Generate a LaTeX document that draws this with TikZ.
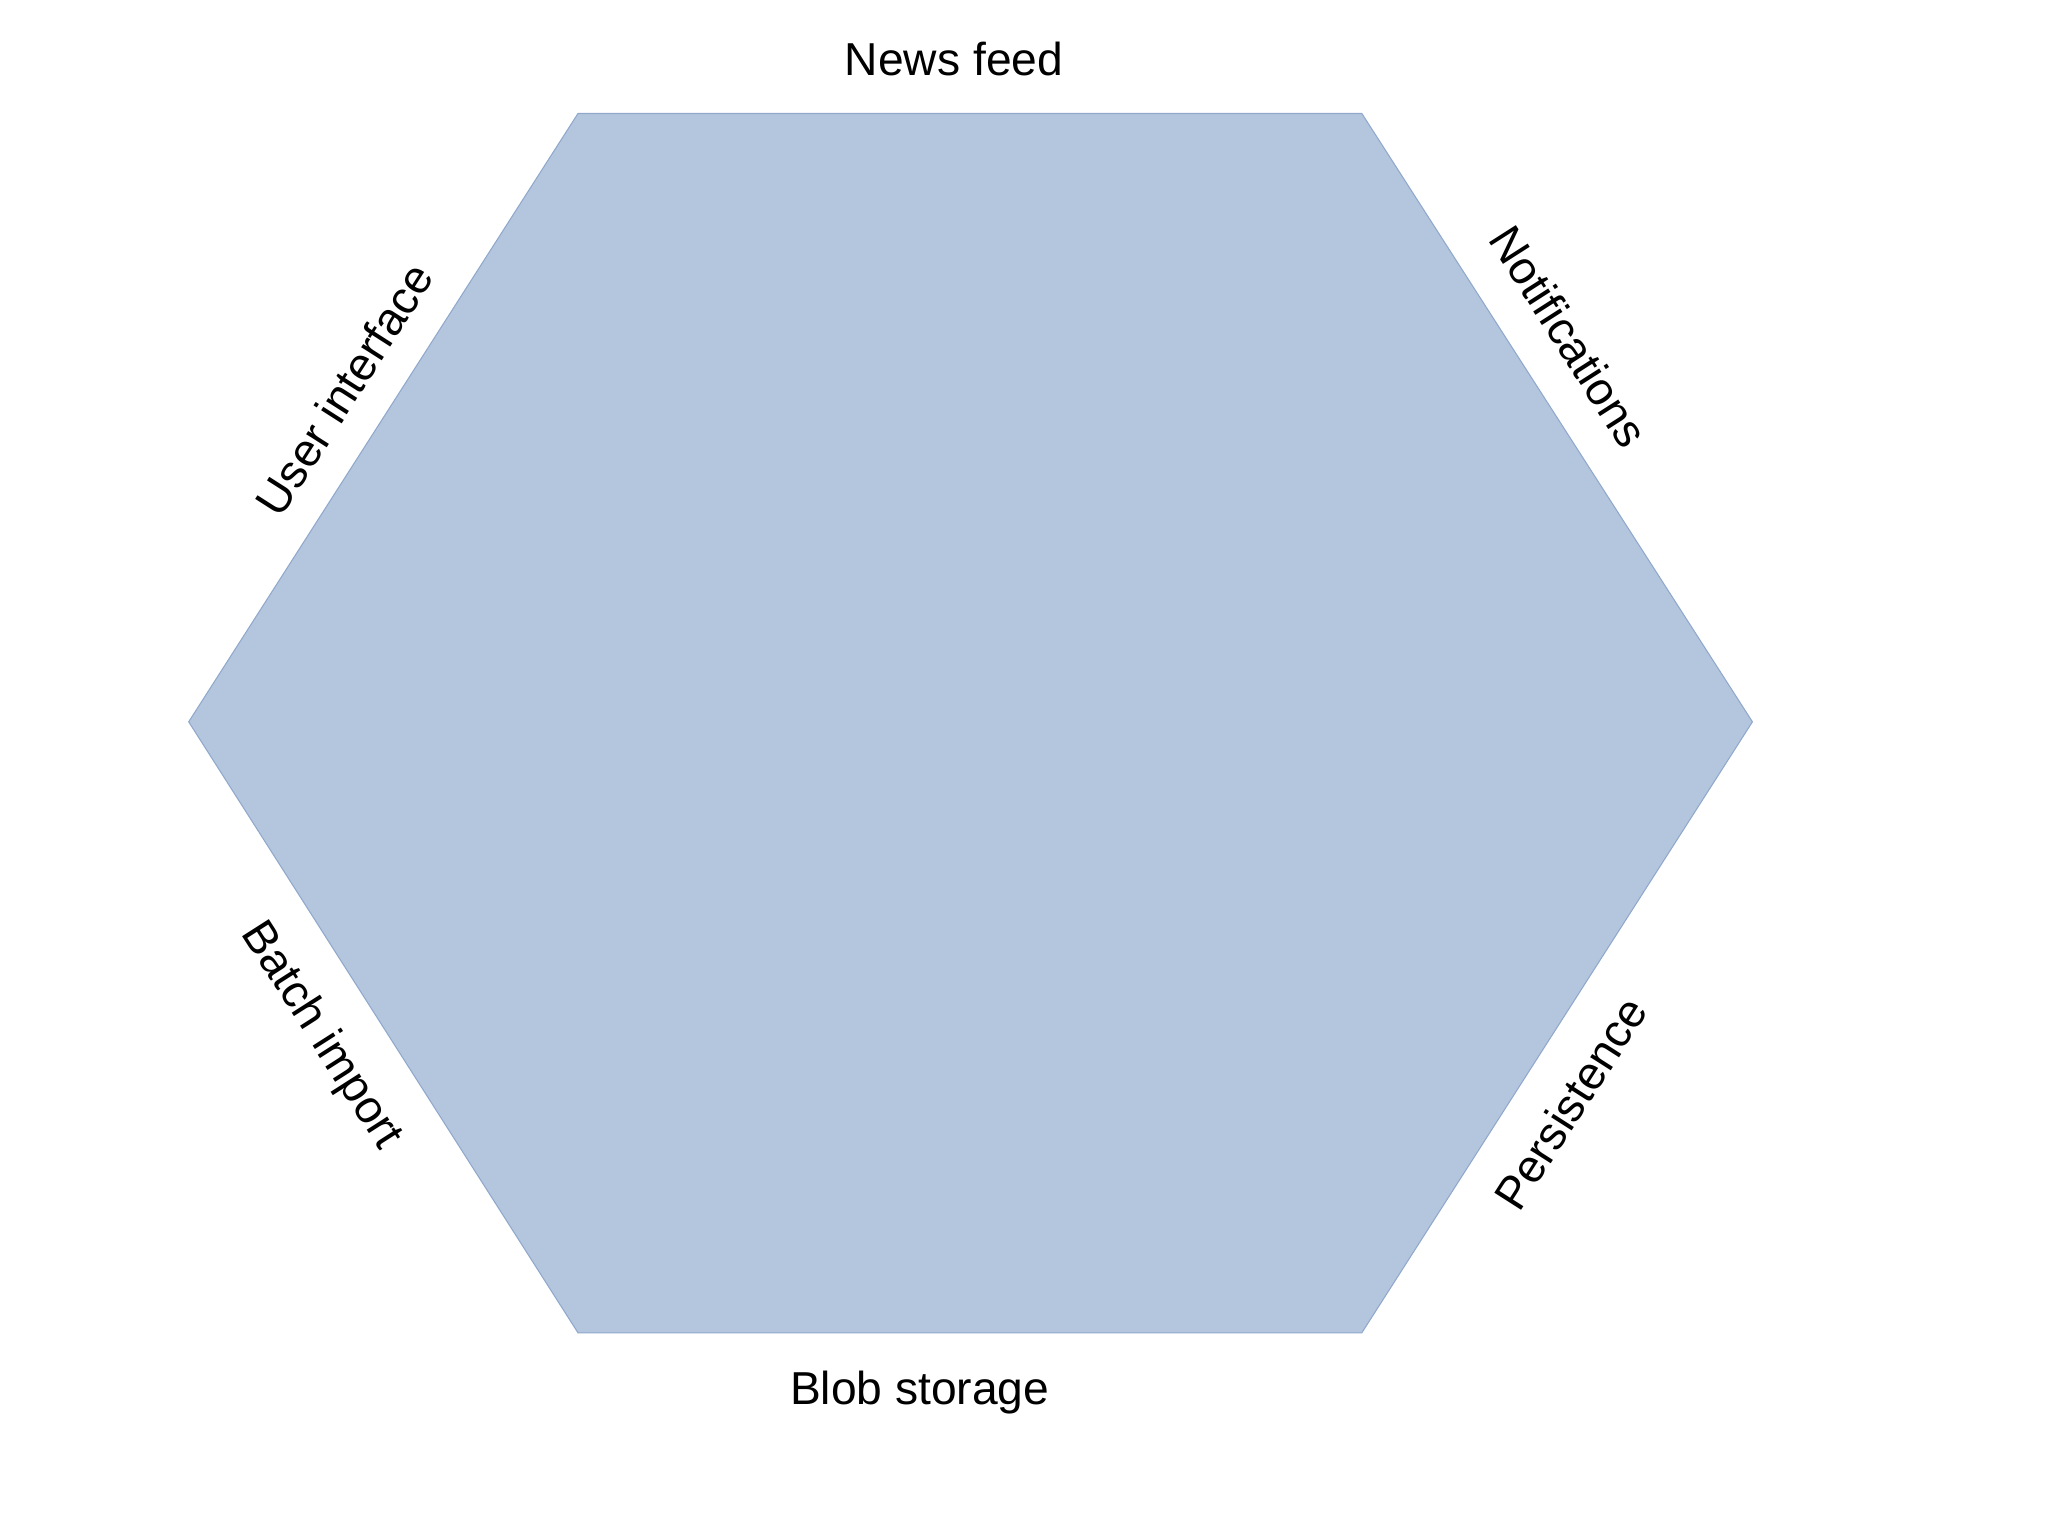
\documentclass[tikz,border=0pt]{standalone}
\usepackage{fontspec}
\setmainfont{Liberation Sans}
\definecolor{hexfill}{HTML}{B4C6DD}
\definecolor{hexline}{HTML}{8FA8CC}
\begin{document}
\begin{tikzpicture}[x=1pt,y=-1pt,
  lbl/.style={font=\fontsize{35}{40}\selectfont, text=black, inner sep=0pt}]
\useasboundingbox (0,0) rectangle (1552,1164);
\fill[white] (0,0) rectangle (1552,1164);
\coordinate (v1) at (438,86);
\coordinate (v2) at (1032,86);
\coordinate (v3) at (1328,547);
\coordinate (v4) at (1032,1010);
\coordinate (v5) at (438,1010);
\coordinate (v6) at (143,547);
\filldraw[fill=hexfill, draw=hexline, line width=0.8pt] (v1) -- (v2) -- (v3) -- (v4) -- (v5) -- (v6) -- cycle;
\node[lbl] (nf) at (723,45) {News feed};
\node[lbl, rotate=57.4] (ui) at (261,295) {User interface};
\node[lbl, rotate=-57.4] (no) at (1189,255) {Notifications};
\node[lbl, rotate=-57.4] (bi) at (243,785) {Batch import};
\node[lbl, rotate=57.4] (pe) at (1190,836) {Persistence};
\node[lbl] (bs) at (697,1055) {Blob storage};
\end{tikzpicture}
\end{document}
